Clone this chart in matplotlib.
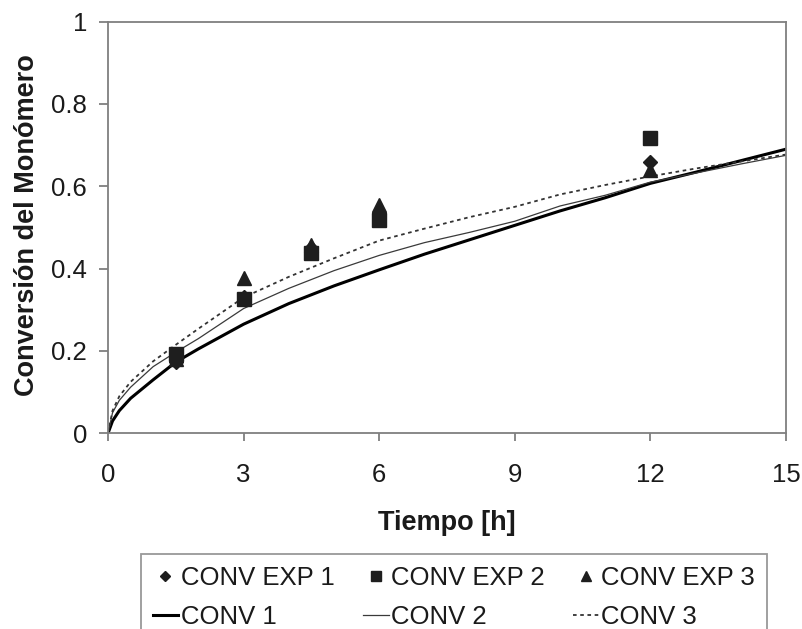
import numpy as np
import matplotlib
matplotlib.use("Agg")
import matplotlib.pyplot as plt

plt.rcParams['font.family'] = ['Liberation Sans', 'DejaVu Sans']

# experimental points
t_exp = [1.5, 3, 4.5, 6, 12]
conv_exp1 = [0.173, 0.33, 0.45, 0.535, 0.659]
conv_exp2 = [0.192, 0.327, 0.438, 0.519, 0.718]
conv_exp3 = [0.18, 0.376, 0.457, 0.554, 0.639]

# model curves
t_mod = [0, 0.1, 0.25, 0.5, 1, 1.5, 2, 3, 4, 5, 6, 7, 8, 9, 10, 11, 12, 13, 14, 15]
conv1 = [0, 0.03, 0.055, 0.085, 0.13, 0.173, 0.205, 0.265, 0.315, 0.358, 0.397,
         0.435, 0.47, 0.505, 0.54, 0.572, 0.607, 0.634, 0.662, 0.69]
conv2 = [0, 0.05, 0.08, 0.112, 0.162, 0.197, 0.23, 0.303, 0.352, 0.395, 0.432,
         0.463, 0.488, 0.515, 0.552, 0.578, 0.61, 0.632, 0.654, 0.675]
conv3 = [0, 0.055, 0.09, 0.125, 0.175, 0.215, 0.254, 0.33, 0.38, 0.425, 0.468,
         0.497, 0.525, 0.55, 0.58, 0.603, 0.624, 0.643, 0.66, 0.677]

fig = plt.figure(figsize=(8.03, 6.29), dpi=100)
ax = fig.add_axes([0.1345, 0.3111, 0.8443, 0.6547])

txt = '#1a1a1a'
mk = '#1e1e1e'
grey = '#7f7f7f'

l1, = ax.plot(t_mod, conv1, color='black', lw=2.2, label='CONV 1')
l2, = ax.plot(t_mod, conv2, color='#3a3a3a', lw=0.9, label='CONV 2')
l3, = ax.plot(t_mod, conv3, color='#333333', lw=1.3, linestyle=(0, (2, 2)), label='CONV 3')

p1, = ax.plot(t_exp, conv_exp1, 'D', color=mk, ms=7, ls='none', label='CONV EXP 1', zorder=4)
p2, = ax.plot(t_exp, conv_exp2, 's', color=mk, ms=9.5, ls='none', label='CONV EXP 2', zorder=4)
p3, = ax.plot(t_exp, conv_exp3, '^', color=mk, ms=10, ls='none', label='CONV EXP 3', zorder=4)

ax.set_xlim(0, 15)
ax.set_ylim(0, 1)
ax.set_xticks([0, 3, 6, 9, 12, 15])
ax.set_yticks([0, 0.2, 0.4, 0.6, 0.8, 1])
ax.set_yticklabels(['0', '0.2', '0.4', '0.6', '0.8', '1'])

for s in ax.spines.values():
    s.set_color(grey)
    s.set_linewidth(1.3)
ax.tick_params(axis='both', colors=grey, labelcolor=txt, labelsize=18.5, width=1.3, direction='out')
ax.tick_params(axis='y', length=6.5, pad=8.5)
ax.tick_params(axis='x', length=5.8, pad=15.5)

ax.set_xlabel('Tiempo [h]', fontsize=19.5, fontweight='bold', color=txt)
ax.set_ylabel('Conversión del Monómero', fontsize=19.5, fontweight='bold', color=txt)
ax.xaxis.set_label_coords(0.5, -0.187)
ax.yaxis.set_label_coords(-0.1, 0.505)

# legend filled column-wise, so interleave to get the two rows
handles = [p1, l1, p2, l2, p3, l3]
leg = fig.legend(handles=handles, labels=[h.get_label() for h in handles],
                 loc='upper left', bbox_to_anchor=(141 / 803, 1 - 554 / 629),
                 ncol=3, fontsize=18.5, frameon=True, fancybox=False,
                 handlelength=1.0, handletextpad=0.1, columnspacing=1.1,
                 labelspacing=0.6, borderpad=0.45, borderaxespad=0, markerscale=0.75)
leg.get_frame().set_edgecolor(grey)
leg.get_frame().set_linewidth(1.3)
for t in leg.get_texts():
    t.set_color(txt)

fig.savefig('out.png', dpi=100)
